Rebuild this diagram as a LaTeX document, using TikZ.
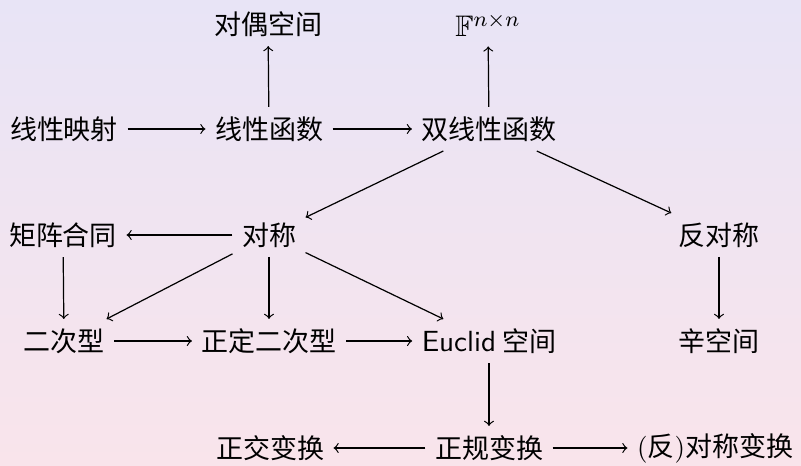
\documentclass[tikz,border=0pt]{standalone}
\usepackage{fontspec}
\usepackage{amssymb}
\newfontfamily\cjk{Noto Sans CJK SC}
\definecolor{bgtop}{RGB}{232,228,246}
\definecolor{bgbot}{RGB}{249,228,235}
\begin{document}
\begin{tikzpicture}[x=0.37037pt,y=-0.37037pt,
  every node/.style={font=\cjk, inner sep=3.33pt},
  arr/.style={->, line width=0.45pt}]
\shade[top color=bgtop, bottom color=bgbot] (0,0) rectangle (801,465);
\useasboundingbox (0,0) rectangle (801,465);
\node (dual) at (268,24) {对偶空间};
\node[font=\fontsize{11}{13}\selectfont] (F) at (488,25) {$\mathbb{F}^{n\times n}$};
\node (lm) at (64,129) {线性映射};
\node (lf) at (269,129) {线性函数};
\node (blf) at (489,129) {双线性函数};
\node (mc) at (63,235) {矩阵合同};
\node (sym) at (269,235) {对称};
\node (asym) at (719,235) {反对称};
\node (qf) at (64,341) {二次型};
\node (pqf) at (269,341) {正定二次型};
\node (euc) at (489,341) {{\sffamily\fontsize{10.8}{13}\selectfont Euclid} 空间};
\node (symp) at (719,341) {辛空间};
\node (orth) at (270,448) {正交变换};
\node (norm) at (489,448) {正规变换};
\node (symt) at (715,448) {{\rmfamily(}反{\rmfamily)}对称变换};
\draw[arr] (lm) -- (lf);
\draw[arr] (lf) -- (blf);
\draw[arr] (lf) -- (dual);
\draw[arr] (blf) -- (F);
\draw[arr] (blf) -- (sym);
\draw[arr] (blf) -- (asym);
\draw[arr] (sym) -- (mc);
\draw[arr] (mc) -- (qf);
\draw[arr] (sym) -- (qf);
\draw[arr] (sym) -- (pqf);
\draw[arr] (sym) -- (euc);
\draw[arr] (qf) -- (pqf);
\draw[arr] (pqf) -- (euc);
\draw[arr] (asym) -- (symp);
\draw[arr] (euc) -- (norm);
\draw[arr] (norm) -- (orth);
\draw[arr] (norm) -- (symt);
\end{tikzpicture}
\end{document}
